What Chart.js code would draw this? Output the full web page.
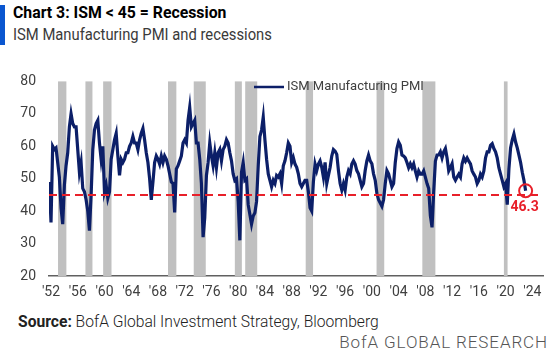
<!DOCTYPE html>
<html>
<head>
<meta charset="utf-8">
<script src="https://cdn.jsdelivr.net/npm/chart.js@4.4.0/dist/chart.umd.min.js"></script>
<style>
  body { margin: 0; width: 554px; height: 351px; background: #fff; position: relative; overflow: hidden;
         font-family: Roboto, sans-serif; }
  #blue { position: absolute; left: 0; top: 5px; width: 5px; height: 40px; background: #0a56d0; }
  #title { position: absolute; left: 13px; top: 2px; font-weight: bold; font-size: 17px; color: #000;
           white-space: nowrap; transform: scaleX(0.93); transform-origin: left top; }
  #sub { position: absolute; left: 13px; top: 24px; font-size: 17px; color: #3a3a3a;
         white-space: nowrap; transform: scaleX(0.87); transform-origin: left top; }
  #wrap { position: absolute; left: 0; top: 60px; width: 554px; height: 245px; }
  #source { position: absolute; left: 18px; top: 311px; font-size: 17px; color: #222; font-weight: 300;
            white-space: nowrap; transform: scaleX(0.92); transform-origin: left top; }
  #source b { font-weight: bold; }
  #brand { position: absolute; right: 6px; top: 332px; font-size: 17px; color: #555; font-weight: 300;
           letter-spacing: 0.9px; white-space: nowrap; }
</style>
</head>
<body>
<div id="blue"></div>
<div id="title">Chart 3: ISM &lt; 45 = Recession</div>
<div id="sub">ISM Manufacturing PMI and recessions</div>
<div id="wrap"><canvas id="chart"></canvas></div>
<div id="source"><b>Source:</b> BofA Global Investment Strategy, Bloomberg</div>
<div id="brand">BofA GLOBAL RESEARCH</div>
<script>
// quarterly readings, first one is Q4 1951
const startYear = 1951.75;
const pmi1950s = [49, 36.5, 60, 59, 59.5, 55, 50.5, 41, 36, 48, 54, 58, 66, 70, 67, 66, 66,
  59, 52, 55, 47, 46, 43.5, 40, 34, 45, 59, 65, 67, 68, 61, 56, 60];
const pmi1960s = [46, 48, 44, 46, 56, 59, 62, 64, 57, 51, 56, 55, 56, 58, 58, 60, 61, 63, 61, 61,
  59, 62, 64, 65.5, 62, 58, 55, 50, 43.5, 49, 55, 57, 56, 54.5, 57, 55, 57, 56, 54, 51.5];
const pmi1970s = [49, 48.5, 39.6, 53, 54, 55.5, 57, 61, 62, 61, 68, 72, 66, 67, 68, 61, 61, 56, 48.5, 32,
  38, 51, 55, 61, 57, 54, 58, 53.5, 58, 59, 55.5, 59, 60, 62, 61, 58, 55.5, 51.5, 49.5, 50];
const pmi1980s = [43, 31, 52, 55, 49.5, 50, 42, 39, 36, 38.5, 39.5, 43, 54, 63, 65, 69, 62, 56, 51.5, 49.5,
  47.5, 49.5, 48.5, 51, 50.5, 51.5, 48.5, 54, 55.5, 58, 61, 60, 55, 56.5, 54.5, 53.5, 51.5, 48.5, 47.5, 48.5];
const pmi1990s = [49.5, 49.5, 46, 41, 40, 49, 54.5, 52.5, 54.5, 55.5, 53.5, 50.5, 55, 48.5, 51, 53.5,
  57, 59, 58.5, 57.5, 52.5, 48.5, 46.5, 48.5, 46.5, 50.5, 52.5, 51.5, 54.5, 55.5, 54.5, 52.5,
  51.5, 49.5, 47.5, 48.5, 52.5, 55.5, 57.3, 55.5];
const pmi2000s = [54.6, 51.5, 49.5, 45.5, 43.5, 42.5, 41.5, 43.5, 48.5, 52.5, 51.5, 49.5, 47.5, 48.5, 55, 59.3,
  61.3, 60.3, 57.3, 57, 56.4, 55, 53.4, 54.6, 53.4, 54.6, 52.4, 50.5, 52.4, 51.4, 51.4, 52.4,
  50.5, 48.5, 47, 38.6, 35, 46, 55.4, 57.3];
const pmi2010s = [57.3, 58.3, 56.4, 58.3, 59.3, 56.4, 52.4, 53.4, 54.6, 50.5, 49.5, 50.5, 51.4, 50.5, 54.6, 56.4,
  55.4, 56.4, 55.4, 54.6, 52.4, 51.4, 50.5, 48.5, 49.5, 51.4, 50.5, 52.4, 56.4, 58.3, 58.3, 60.3,
  60.8, 59.3, 58.3, 56.4, 53.4, 51.4, 49.5, 47.5];
const pmi2020s = [48.5, 42, 53, 59.5, 62, 63.8, 61.3, 59.5, 57.3, 55, 52, 49.5, 46.3];

// recession shading (start / end, decimal years)
const recStart = [1953.05, 1957.15, 1959.8, 1969.5, 1973.35, 1979.5, 1981.05, 1990.1, 2000.7, 2007.55, 2019.75];
const recEnd = [1954.3, 1958.2, 1961.05, 1970.75, 1975.15, 1980.55, 1982.85, 1991.2, 2001.85, 2009.5, 2020.3];

const tickYears = [1952, 1956, 1960, 1964, 1968, 1972, 1976, 1980, 1984, 1988, 1992, 1996, 2000, 2004, 2008, 2012, 2016, 2020, 2024];
const tickLabels = ["'52", "'56", "'60", "'64", "'68", "'72", "'76", "'80", "'84", "'88", "'92", "'96", "'00", "'04", "'08", "'12", "'16", "'20", "'24"];
const threshold = 45;

const pmi = [...pmi1950s, ...pmi1960s, ...pmi1970s, ...pmi1980s, ...pmi1990s, ...pmi2000s, ...pmi2010s, ...pmi2020s];
const points = pmi.map((v, i) => ({ x: startYear + i / 4, y: v }));

const navy = "#0c1f68";
const red = "#e8202a";
const font = "Roboto, sans-serif";

const extras = {
  id: "extras",
  beforeDatasetsDraw(chart) {
    const { ctx, chartArea, scales } = chart;
    ctx.save();
    ctx.fillStyle = "#c0c0c0";
    recStart.forEach((s, i) => {
      const x1 = scales.x.getPixelForValue(s);
      const x2 = scales.x.getPixelForValue(recEnd[i]);
      ctx.fillRect(x1, chartArea.top, x2 - x1, chartArea.bottom - chartArea.top);
    });
    ctx.restore();
  },
  afterDatasetsDraw(chart) {
    const { ctx, chartArea, scales } = chart;
    ctx.save();
    // 45 line
    const y45 = scales.y.getPixelForValue(threshold);
    ctx.strokeStyle = red;
    ctx.lineWidth = 2;
    ctx.setLineDash([8, 5]);
    ctx.beginPath();
    ctx.moveTo(chartArea.left, y45);
    ctx.lineTo(chartArea.right, y45);
    ctx.stroke();
    ctx.setLineDash([]);

    // last value marker
    const last = points[points.length - 1];
    const px = scales.x.getPixelForValue(last.x);
    const py = scales.y.getPixelForValue(last.y);
    ctx.beginPath();
    ctx.arc(px, py, 6.5, 0, Math.PI * 2);
    ctx.stroke();
    ctx.fillStyle = red;
    ctx.font = "bold 14px " + font;
    ctx.textAlign = "center";
    ctx.textBaseline = "middle";
    ctx.fillText(last.y.toFixed(1), px - 1, py + 17);

    // legend
    ctx.strokeStyle = navy;
    ctx.lineWidth = 2.5;
    ctx.beginPath();
    ctx.moveTo(254, 27);
    ctx.lineTo(284, 27);
    ctx.stroke();
    ctx.fillStyle = "#404040";
    ctx.font = "13px " + font;
    ctx.textAlign = "left";
    ctx.fillText(chart.data.datasets[0].label, 287, 27);
    ctx.restore();
  }
};

new Chart(document.getElementById("chart"), {
  type: "line",
  data: {
    datasets: [{
      label: "ISM Manufacturing PMI",
      data: points,
      borderColor: navy,
      borderWidth: 3.2,
      pointRadius: 0,
      tension: 0
    }]
  },
  options: {
    responsive: true,
    maintainAspectRatio: false,
    animation: false,
    layout: { padding: { top: 13, right: 11, left: 0, bottom: 0 } },
    plugins: { legend: { display: false }, tooltip: { enabled: false } },
    scales: {
      x: {
        type: "linear",
        min: 1951.7,
        max: 2025.6,
        grid: { display: false, drawTicks: false },
        border: { display: true, color: "#606060", width: 1.5 },
        ticks: {
          color: "#404040",
          font: { family: font, size: 14 },
          padding: 8,
          maxRotation: 0,
          autoSkip: false,
          callback: (v) => tickLabels[tickYears.indexOf(v)]
        },
        afterBuildTicks: (s) => { s.ticks = tickYears.map((v) => ({ value: v })); },
        afterFit: (s) => { s.height = 29; }
      },
      y: {
        min: 20,
        max: 80,
        grid: { display: false, drawTicks: false },
        border: { display: false },
        ticks: { stepSize: 10, color: "#404040", font: { family: font, size: 14 }, padding: 13 },
        afterFit: (s) => { s.width = 49; }
      }
    }
  },
  plugins: [extras]
});
</script>
</body>
</html>
